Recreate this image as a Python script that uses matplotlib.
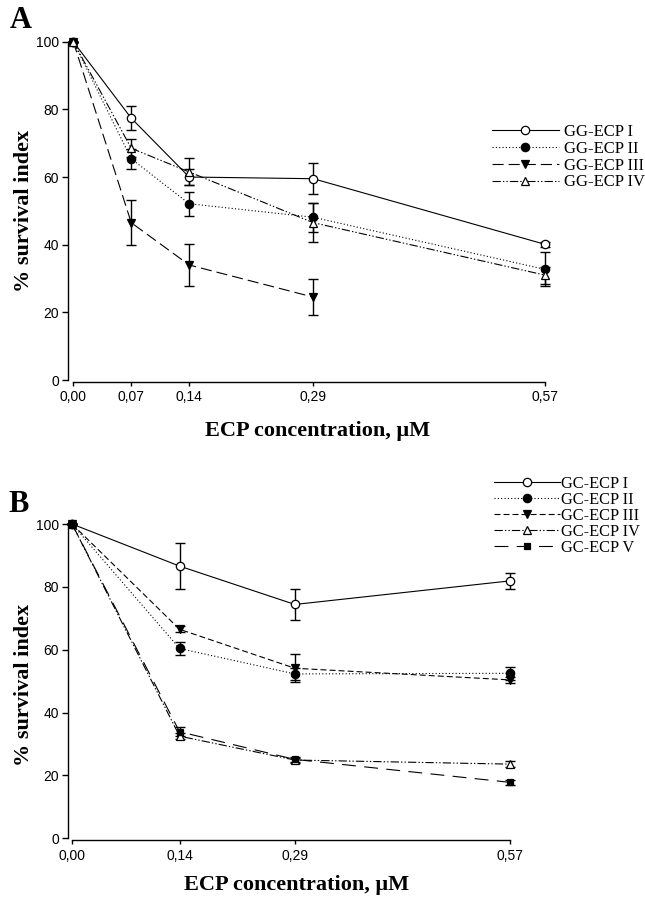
import matplotlib
matplotlib.use("Agg")
import matplotlib.pyplot as plt

plt.rcParams['lines.scale_dashes'] = False

# ---------------- data ----------------
xA = [0.0, 0.07, 0.14, 0.29, 0.57]
xA_ticklabels = ["0,00", "0,07", "0,14", "0,29", "0,57"]
xA3 = [0.0, 0.07, 0.14, 0.29]
gg1 = [100, 77.4, 60.0, 59.5, 40.1]
gg1_err = [0, 3.6, 2.3, 4.5, 0.8]
gg2 = [100, 65.4, 52.1, 48.1, 32.7]
gg2_err = [0, 3.0, 3.5, 4.3, 5.0]
gg3 = [100, 46.5, 34.0, 24.5]
gg3_err = [0, 6.6, 6.1, 5.3]
gg4 = [100, 68.5, 61.5, 46.5, 31.0]
gg4_err = [0, 2.7, 4.0, 5.8, 2.5]
labelsA = ["GG-ECP I", "GG-ECP II", "GG-ECP III", "GG-ECP IV"]

xB = [0.0, 0.14, 0.29, 0.57]
xB_ticklabels = ["0,00", "0,14", "0,29", "0,57"]
gc1 = [100, 86.6, 74.4, 81.9]
gc1_err = [0, 7.3, 4.8, 2.5]
gc2 = [100, 60.4, 52.3, 52.5]
gc2_err = [0, 2.0, 2.0, 2.0]
gc3 = [100, 66.5, 54.1, 50.4]
gc3_err = [0, 1.0, 4.4, 1.0]
gc4 = [100, 32.5, 24.9, 23.6]
gc4_err = [0, 1.0, 0.8, 1.0]
gc5 = [100, 33.9, 25.1, 17.8]
gc5_err = [0, 1.5, 0.8, 0.8]
labelsB = ["GC-ECP I", "GC-ECP II", "GC-ECP III", "GC-ECP IV", "GC-ECP V"]

yticks = [0, 20, 40, 60, 80, 100]

# ---------------- styles ----------------
LW = 0.8
solid = '-'
dotted = (0, (0.8, 1.6))
longdash = (0, (8, 3.6))
shortdash = (0, (4.3, 2.2))
dashdotdot = (0, (6, 1.5, 1, 1.5, 1, 1.5))
vlongdash = (0, (10, 6))

W, H = 645, 897
fig = plt.figure(figsize=(W / 100, H / 100), dpi=100)

def px_axes(x0, x1, y_top, y_bot):
    return fig.add_axes([x0 / W, 1 - y_bot / H, (x1 - x0) / W, (y_bot - y_top) / H])

serif = ['Liberation Serif', 'DejaVu Serif']
sans = ['Liberation Sans', 'DejaVu Sans']

def style_axes(ax, xticks, xticklabels, left_off):
    ax.set_xlim(0, 0.57)
    ax.set_ylim(0, 100)
    for s in ['top', 'right']:
        ax.spines[s].set_visible(False)
    ax.spines['left'].set_position(('outward', left_off))
    ax.spines['bottom'].set_position(('outward', 1.5))
    for s in ['left', 'bottom']:
        ax.spines[s].set_linewidth(1.0)
    ax.set_xticks(xticks)
    ax.set_xticklabels(xticklabels)
    ax.set_yticks(yticks)
    ax.set_yticklabels([str(v) for v in yticks])
    ax.tick_params(axis='y', direction='out', length=4.3, width=1.0, pad=2)
    ax.tick_params(axis='x', direction='out', length=3, width=1.0, pad=3)
    for lab in ax.get_xticklabels() + ax.get_yticklabels():
        lab.set_family(sans)
        lab.set_fontsize(10)

def series(ax, x, y, err, ls, marker, face, label, ms=6):
    ax.errorbar(x, y, yerr=err, fmt='none', ecolor='black', elinewidth=1.0,
                capsize=3.3, capthick=1.0, clip_on=False, zorder=2)
    line, = ax.plot(x, y, linestyle=ls, color='black', lw=LW, marker=marker,
                    markersize=ms, markerfacecolor=face, markeredgecolor='black',
                    markeredgewidth=0.9, clip_on=False, label=label, zorder=3)
    return line

# ---------------- Panel A ----------------
axA = px_axes(73.3, 545, 41.7, 380)
style_axes(axA, xA, xA_ticklabels, 4)
hA = [
    series(axA, xA, gg1, gg1_err, solid, 'o', 'white', labelsA[0]),
    series(axA, xA, gg2, gg2_err, dotted, 'o', 'black', labelsA[1]),
    series(axA, xA3, gg3, gg3_err, longdash, 'v', 'black', labelsA[2]),
    series(axA, xA, gg4, gg4_err, dashdotdot, '^', 'white', labelsA[3]),
]
legA = fig.legend(handles=hA, loc='upper left', bbox_to_anchor=(492 / W, 1 - 124 / H),
                  frameon=False, handlelength=4.0, handletextpad=0.3, labelspacing=0.05,
                  borderpad=0, borderaxespad=0, numpoints=1,
                  prop={'family': serif, 'size': 12})

fig.text(10 / W, 1 - 28 / H, "A", fontsize=22, fontweight='bold', family=serif,
         ha='left', va='baseline')
fig.text(24 / W, 1 - 211 / H, "% survival index", rotation=90, fontsize=16,
         fontweight='bold', family=serif, ha='center', va='center')
fig.text(318 / W, 1 - 436 / H, "ECP concentration, \u03bcM", fontsize=16,
         fontweight='bold', family=serif, ha='center', va='baseline')

# ---------------- Panel B ----------------
axB = px_axes(72, 510, 524, 838.3)
style_axes(axB, xB, xB_ticklabels, 3)
hB = [
    series(axB, xB, gc1, gc1_err, solid, 'o', 'white', labelsB[0]),
    series(axB, xB, gc2, gc2_err, dotted, 'o', 'black', labelsB[1]),
    series(axB, xB, gc3, gc3_err, shortdash, 'v', 'black', labelsB[2]),
    series(axB, xB, gc4, gc4_err, dashdotdot, '^', 'white', labelsB[3]),
    series(axB, xB, gc5, gc5_err, vlongdash, 's', 'black', labelsB[4], ms=5),
]
legB = fig.legend(handles=hB, loc='upper left', bbox_to_anchor=(494 / W, 1 - 476 / H),
                  frameon=False, handlelength=4.0, handletextpad=0.1, labelspacing=0.0,
                  borderpad=0, borderaxespad=0, numpoints=1,
                  prop={'family': serif, 'size': 11.8})

fig.text(8 / W, 1 - 512 / H, "B", fontsize=22, fontweight='bold', family=serif,
         ha='left', va='baseline')
fig.text(24 / W, 1 - 685 / H, "% survival index", rotation=90, fontsize=16,
         fontweight='bold', family=serif, ha='center', va='center')
fig.text(297 / W, 1 - 890 / H, "ECP concentration, \u03bcM", fontsize=16,
         fontweight='bold', family=serif, ha='center', va='baseline')

fig.savefig("out.png", dpi=100, facecolor='white')
